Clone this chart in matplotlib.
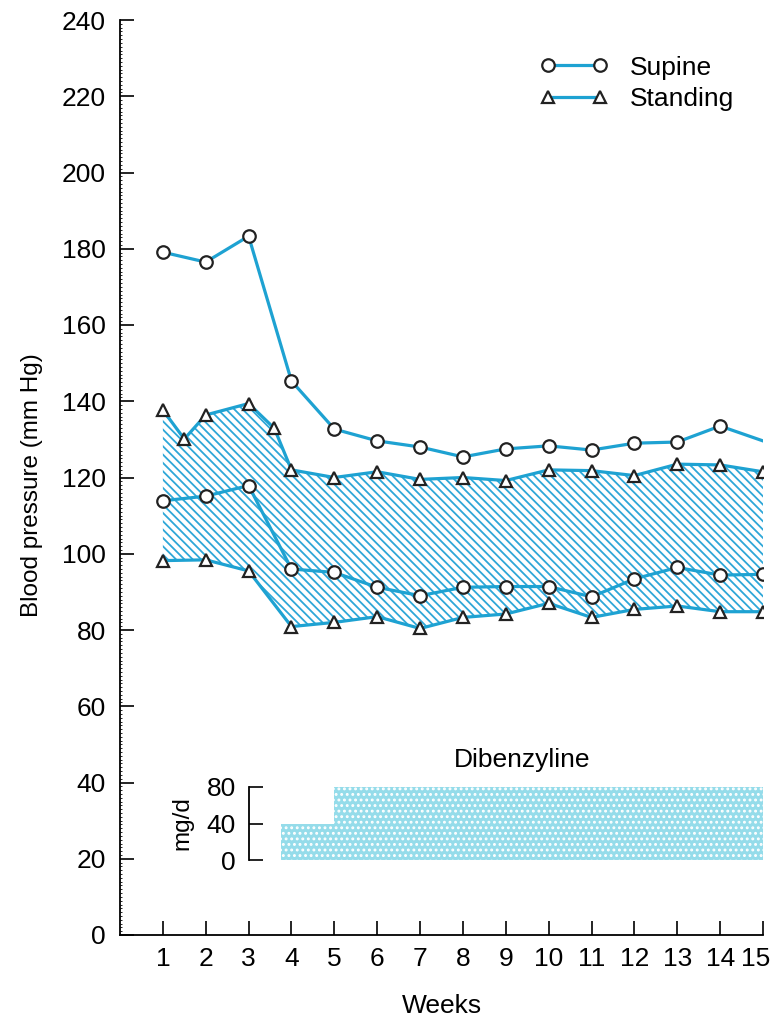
import matplotlib
matplotlib.use("Agg")
import matplotlib.pyplot as plt
from matplotlib.ticker import MultipleLocator
from matplotlib.transforms import ScaledTranslation

plt.rcParams['font.family'] = ['Liberation Sans', 'DejaVu Sans']
plt.rcParams['hatch.linewidth'] = 1.3

# ---- data ----
weeks = list(range(1, 16))
supine_sys_x = list(range(1, 16))
supine_sys = [179.1, 176.5, 183.3, 145.3, 132.7, 129.6, 128.0, 125.4, 127.5,
              128.3, 127.2, 129.0, 129.3, 133.5, 129.6]
supine_sys_marked = [True] * 14 + [False]
supine_dia = [113.9, 115.1, 117.9, 96.0, 95.1, 91.2, 89.0, 91.2, 91.4,
              91.4, 88.7, 93.4, 96.4, 94.4, 94.6]
stand_sys_x = [1, 1.5, 2, 3, 3.6, 4, 5, 6, 7, 8, 9, 10, 11, 12, 13, 14, 15]
stand_sys = [137.7, 130.1, 136.4, 139.4, 132.9, 122.0, 120.0, 121.5, 119.5,
             120.0, 119.2, 122.0, 121.8, 120.5, 123.5, 123.3, 121.5]
stand_dia = [98.2, 98.4, 95.5, 80.9, 82.0, 83.5, 80.4, 83.3, 84.2, 87.0,
             83.3, 85.4, 86.3, 84.8, 84.8]
dose_start = [3.75, 5.0]
dose_end = [5.0, 15.0]
dose_mg = [40, 80]
y_ticks = list(range(0, 241, 20))
dose_ticks = [0, 40, 80]

LINE = '#1ea2d2'
HATCH = '#2ea7d8'
FS = 19

fig = plt.figure(figsize=(7.74, 10.19), dpi=100)
ax = fig.add_axes([120 / 774, 1 - 935 / 1019, (763 - 120) / 774, (935 - 20) / 1019])

# hatched region between standing systolic and diastolic
poly_x = stand_sys_x + weeks[::-1]
poly_y = stand_sys + stand_dia[::-1]
ax.fill(poly_x, poly_y, facecolor='none', edgecolor=HATCH, hatch='\\\\\\\\',
        linewidth=0, zorder=1)

mk_c = dict(marker='o', markersize=9, markerfacecolor='white',
            markeredgecolor='#222222', markeredgewidth=1.6)
mk_t = dict(marker='^', markersize=8, markerfacecolor='white',
            markeredgecolor='#222222', markeredgewidth=1.6)

ax.plot(supine_sys_x, supine_sys, color=LINE, lw=2.3, zorder=3,
        markevery=supine_sys_marked, **mk_c)
ax.plot(weeks, supine_dia, color=LINE, lw=2.3, zorder=3, **mk_c)
ax.plot(stand_sys_x, stand_sys, color=LINE, lw=2.3, zorder=3, **mk_t)
ax.plot(weeks, stand_dia, color=LINE, lw=2.3, zorder=3, **mk_t)

# legend handles
h1, = ax.plot([], [], color=LINE, lw=2.3, label='Supine', **mk_c)
h2, = ax.plot([], [], color=LINE, lw=2.3, label='Standing', **mk_t)
ax.legend(handles=[h1, h2], loc='upper left', bbox_to_anchor=(0.637, 0.9727),
          frameon=False, fontsize=FS, numpoints=2, handlelength=2.57,
          handletextpad=0.84, labelspacing=0.3, borderaxespad=0)

ax.set_xlim(0, 15)
ax.set_ylim(0, 240)
ax.set_xticks(weeks)
ax.set_yticks(y_ticks)
ax.yaxis.set_minor_locator(MultipleLocator(1))
ax.tick_params(axis='both', which='major', direction='in', length=10, width=1.2,
               labelsize=FS, colors='black')
ax.tick_params(axis='x', pad=9)
ax.tick_params(axis='y', pad=10)
ax.tick_params(axis='y', which='minor', direction='in', length=1.5, width=0.6)
for s in ['top', 'right']:
    ax.spines[s].set_visible(False)
for s in ['left', 'bottom']:
    ax.spines[s].set_linewidth(1.3)
ax.set_xlabel('Weeks', fontsize=FS, labelpad=16)
ax.set_ylabel('Blood pressure (mm Hg)', fontsize=17.5, labelpad=14)
ax.yaxis.label.set_y(0.492)

# shift the last week label slightly left so it stays inside the figure
last_lbl = ax.get_xticklabels()[-1]
last_lbl.set_transform(last_lbl.get_transform() +
                       ScaledTranslation(-7 / 100, 0, fig.dpi_scale_trans))

# Dibenzyline dose inset
ins = ax.inset_axes([3.0, 19.67, 12.0, 38.82 - 19.67], transform=ax.transData)
widths = [e - s for s, e in zip(dose_start, dose_end)]
ins.bar(dose_start, dose_mg, width=widths, align='edge', color='#95dcea',
        edgecolor='white', hatch='...', linewidth=0)
ins.set_xlim(3.0, 15.0)
ins.set_ylim(0, 80)
ins.set_yticks(dose_ticks)
ins.set_xticks([])
ins.patch.set_visible(False)
for s in ['top', 'right', 'bottom']:
    ins.spines[s].set_visible(False)
ins.spines['left'].set_linewidth(1.3)
ins.tick_params(axis='y', direction='in', length=10, width=1.2, labelsize=FS, pad=9)
ins.set_ylabel('mg/d', fontsize=17.5, labelpad=10)
ax.text(9.38, 45.9, 'Dibenzyline', fontsize=FS, ha='center', va='center')

fig.savefig('out.png', dpi=100)
